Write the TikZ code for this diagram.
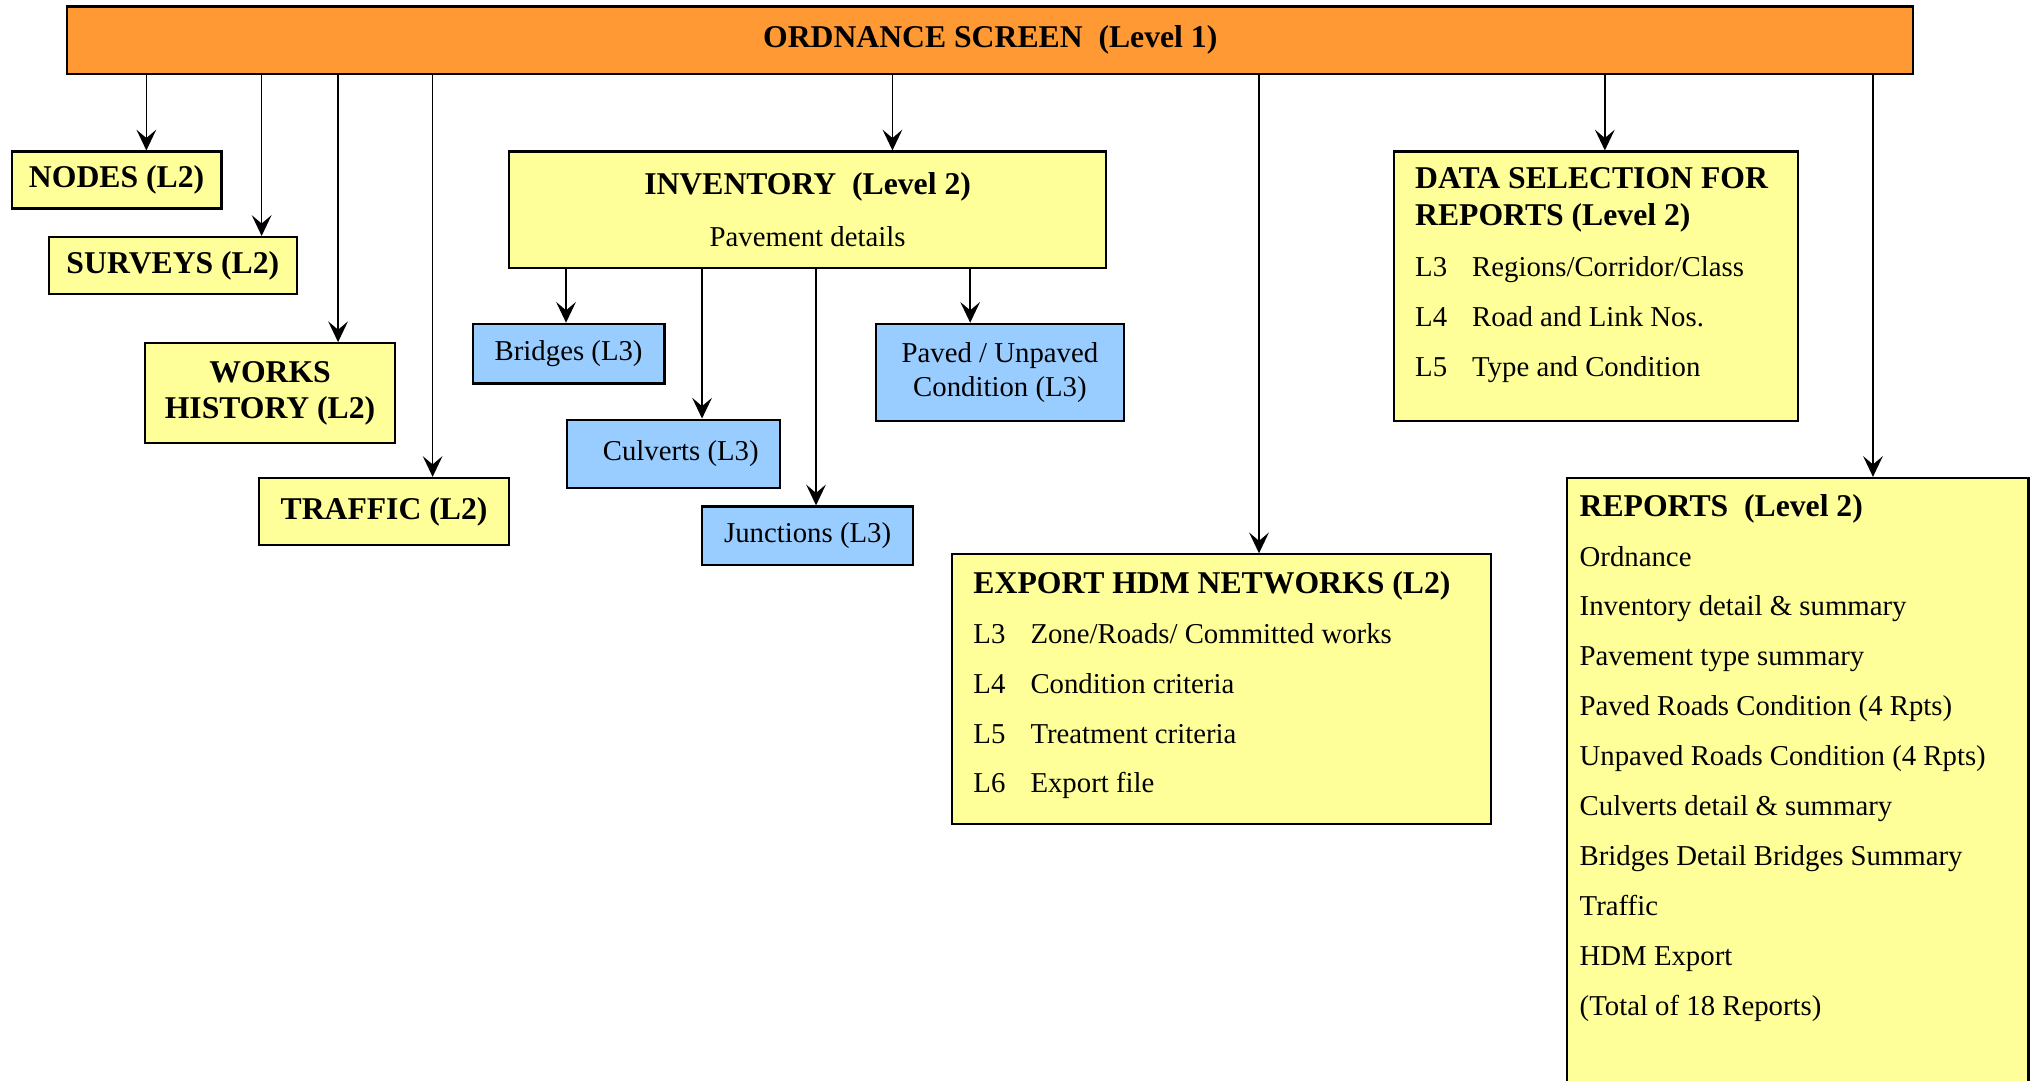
\documentclass[tikz,border=0pt]{standalone}
\usepackage{fontspec}
\setmainfont{Liberation Serif}
\usepackage{xcolor}
\usetikzlibrary{shapes,arrows.meta,positioning}

\definecolor{ordorange}{HTML}{FF9933}
\definecolor{lvltwoyellow}{HTML}{FFFF99}
\definecolor{lvlthreeblue}{HTML}{99CCFF}

\newcommand{\bodyfont}{\fontsize{7.9}{13.7}\selectfont}
\newcommand{\headfont}{\fontsize{8.7}{10}\selectfont\bfseries}
\newcommand{\lvl}[1]{\makebox[0.55cm][l]{#1}}

\begin{document}
\begin{tikzpicture}[x=0.0125cm, y=-0.0125cm,
    boxsize/.style 2 args={minimum width=#1*0.0125cm, minimum height=#2*0.0125cm},
    screen/.style={draw, line width=0.6pt, fill=ordorange, inner sep=0pt, font=\headfont},
    leveltwo/.style={draw, line width=0.6pt, fill=lvltwoyellow, inner sep=0pt, align=center, font=\headfont},
    levelthree/.style={draw, line width=0.6pt, fill=lvlthreeblue, inner sep=0pt, align=center, font=\fontsize{7.9}{9.2}\selectfont},
    listtext/.style={anchor=west, inner sep=0pt, align=left, font=\bodyfont},
    link/.style={-{Stealth[length=0.2cm, width=0.19cm, inset=0.08cm]}, line width=0.45pt}]
    \useasboundingbox (0,0) rectangle (1568,834);

    % level 1
    \node (top) [screen, boxsize={1425}{52}] at (764.5,31) {ORDNANCE SCREEN\ \ (Level 1)};

    % level 2 boxes on the left
    \node (nodes) [leveltwo, boxsize={162}{44}] at (90,139) {NODES (L2)};
    \node (surveys) [leveltwo, boxsize={191}{44}] at (133.5,205) {SURVEYS (L2)};
    \node (works) [leveltwo, boxsize={193}{77}] at (208.5,303.5) {WORKS\\HISTORY (L2)};
    \node (traffic) [leveltwo, boxsize={193}{52}] at (296.5,395) {TRAFFIC (L2)};

    % inventory and its level 3 boxes
    \node (inv) [leveltwo, boxsize={461}{90}] at (623.5,162)
        {INVENTORY\ \ (Level 2)\\[4.2pt]\bodyfont\mdseries Pavement details};
    \node (bridges) [levelthree, boxsize={148}{46}] at (439,273) {Bridges (L3)};
    \node (culverts) [levelthree, boxsize={164}{53}] at (520,350.5) {\ \ Culverts (L3)};
    \node (junctions) [levelthree, boxsize={163}{45}] at (623.5,413.5) {Junctions (L3)};
    \node (paved) [levelthree, boxsize={192}{75}] at (772,287.5) {Paved / Unpaved\\Condition (L3)};

    % data selection
    \node (datasel) [leveltwo, boxsize={312}{208}] at (1232,221) {};
    \node (seltext) [listtext] at (1092,212.5)
        {{\headfont DATA SELECTION FOR}\\[-3.7pt]
         {\headfont REPORTS (Level 2)}\\[0.5pt]
         \lvl{L3}Regions/Corridor/Class\\
         \lvl{L4}Road and Link Nos.\\
         \lvl{L5}Type and Condition};

    % export
    \node (export) [leveltwo, boxsize={416}{208}] at (943,532) {};
    \node (exptext) [listtext] at (751,529)
        {{\headfont EXPORT HDM NETWORKS (L2)}\\
         \lvl{L3}Zone/Roads/ Committed works\\
         \lvl{L4}Condition criteria\\
         \lvl{L5}Treatment criteria\\
         \lvl{L6}Export file};

    % reports
    \node (reports) [leveltwo, boxsize={356}{482}] at (1388,610) {};
    \node (reptext) [listtext] at (1219,585)
        {{\headfont REPORTS\ \ (Level 2)}\\
         Ordnance\\
         Inventory detail \& summary\\
         Pavement type summary\\
         Paved Roads Condition (4 Rpts)\\
         Unpaved Roads Condition (4 Rpts)\\
         Culverts detail \& summary\\
         Bridges Detail Bridges Summary\\
         Traffic\\
         HDM Export\\
         (Total of 18 Reports)};

    % connectors
    \foreach \x/\n in {113/nodes, 202/surveys, 261/works, 334/traffic, 689/inv, 972/export, 1239/datasel, 1446/reports}
        \draw[link] (top.south -| \x,0) -- (\n.north -| \x,0);
    \foreach \x/\n in {437/bridges, 542/culverts, 630/junctions, 749/paved}
        \draw[link] (inv.south -| \x,0) -- (\n.north -| \x,0);
\end{tikzpicture}
\end{document}
